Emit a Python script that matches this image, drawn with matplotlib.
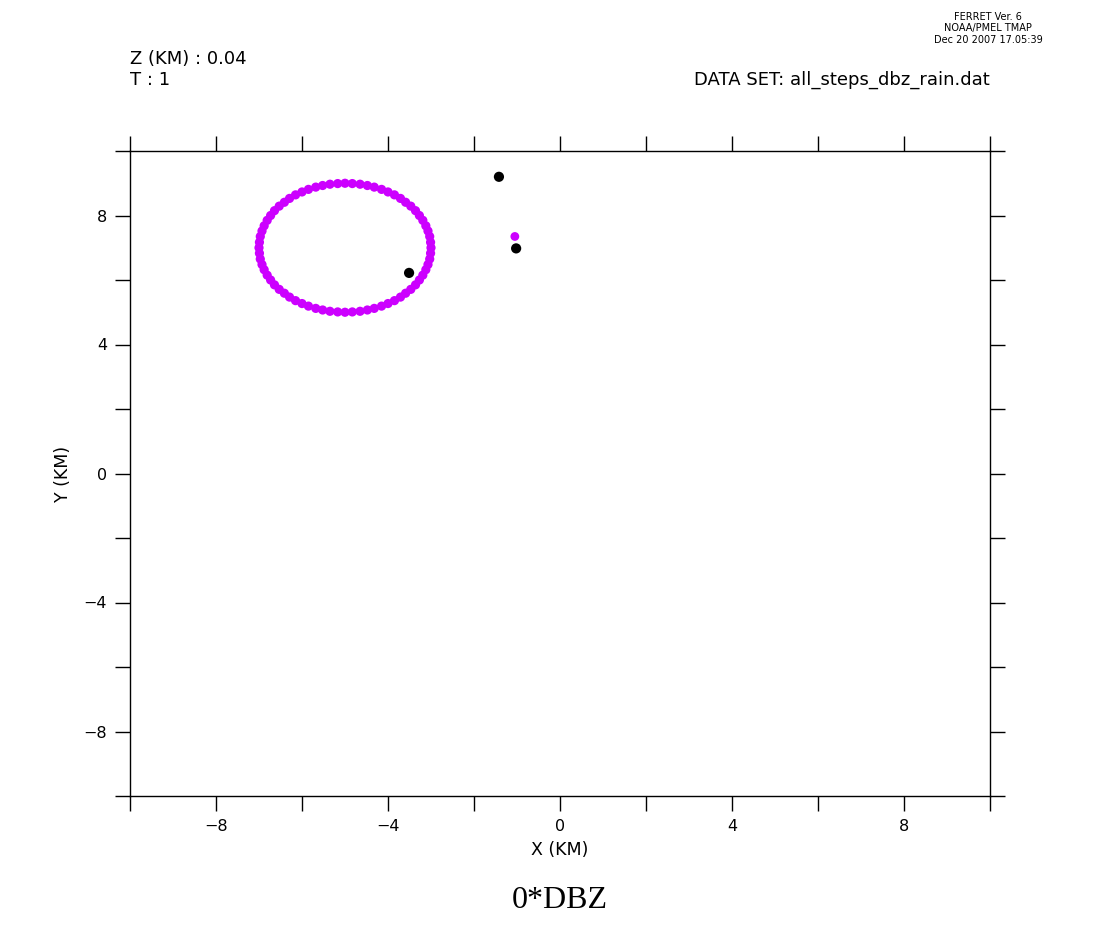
import matplotlib.pyplot as plt

# ring of rain points (magenta)
ring_x = [-3.00, -3.01, -3.03, -3.07, -3.12, -3.19, -3.27, -3.36, -3.47, -3.59, -3.71, -3.85,
          -4.00, -4.15, -4.32, -4.48, -4.65, -4.83,
          -5.00, -5.17, -5.35, -5.52, -5.68, -5.85, -6.00, -6.15, -6.29, -6.41, -6.53, -6.64,
          -6.73, -6.81, -6.88, -6.93, -6.97, -6.99,
          -7.00, -6.99, -6.97, -6.93, -6.88, -6.81, -6.73, -6.64, -6.53, -6.41, -6.29, -6.15,
          -6.00, -5.85, -5.68, -5.52, -5.35, -5.17,
          -5.00, -4.83, -4.65, -4.48, -4.32, -4.15, -4.00, -3.85, -3.71, -3.59, -3.47, -3.36,
          -3.27, -3.19, -3.12, -3.07, -3.03, -3.01]
ring_y = [7.00, 7.17, 7.35, 7.52, 7.68, 7.85, 8.00, 8.15, 8.29, 8.41, 8.53, 8.64,
          8.73, 8.81, 8.88, 8.93, 8.97, 8.99,
          9.00, 8.99, 8.97, 8.93, 8.88, 8.81, 8.73, 8.64, 8.53, 8.41, 8.29, 8.15,
          8.00, 7.85, 7.68, 7.52, 7.35, 7.17,
          7.00, 6.83, 6.65, 6.48, 6.32, 6.15, 6.00, 5.85, 5.71, 5.59, 5.47, 5.36,
          5.27, 5.19, 5.12, 5.07, 5.03, 5.01,
          5.00, 5.01, 5.03, 5.07, 5.12, 5.19, 5.27, 5.36, 5.47, 5.59, 5.71, 5.85,
          6.00, 6.15, 6.32, 6.48, 6.65, 6.83]

# single magenta point
extra_x = [-1.05]
extra_y = [7.35]

# black points
black_x = [-1.42, -3.51, -1.02]
black_y = [9.20, 6.22, 6.98]

ticks = [-10, -8, -6, -4, -2, 0, 2, 4, 6, 8, 10]
tick_labels = ['', '\u22128', '', '\u22124', '', '0', '', '4', '', '8', '']

magenta = '#cc00ff'


def plot():
    fig = plt.figure(figsize=(11, 9.48), dpi=100)
    ax = fig.add_axes([130 / 1100, 1 - 796 / 948, 860 / 1100, 645 / 948])

    ax.scatter(black_x, black_y, s=54, color='black', edgecolors='none', zorder=3)
    ax.scatter(ring_x, ring_y, s=44, color=magenta, edgecolors='none', zorder=3)
    ax.scatter(extra_x, extra_y, s=40, color=magenta, edgecolors='none', zorder=3)

    ax.set_xlim(-10, 10)
    ax.set_ylim(-10, 10)
    ax.set_xticks(ticks)
    ax.set_xticklabels(tick_labels)
    ax.set_yticks(ticks)
    ax.set_yticklabels(tick_labels)
    ax.tick_params(direction='out', length=10.5, width=1, labelsize=11.5,
                   top=True, right=True, pad=6)
    for sp in ax.spines.values():
        sp.set_linewidth(1)

    ax.set_xlabel('X (KM)', fontsize=12.5, labelpad=5)
    ax.set_ylabel('Y (KM)', fontsize=12.5, labelpad=8)

    fig.text(130 / 1100, 1 - 59 / 948, 'Z (KM) : 0.04', fontsize=13, va='center', ha='left')
    fig.text(130 / 1100, 1 - 80 / 948, 'T : 1', fontsize=13, va='center', ha='left')
    fig.text(990 / 1100, 1 - 80 / 948, 'DATA SET: all_steps_dbz_rain.dat', fontsize=13,
             va='center', ha='right')

    fig.text(988 / 1100, 1 - 17 / 948, 'FERRET Ver. 6', fontsize=7, va='center', ha='center')
    fig.text(988 / 1100, 1 - 28 / 948, 'NOAA/PMEL TMAP', fontsize=7, va='center', ha='center')
    fig.text(988 / 1100, 1 - 40 / 948, 'Dec 20 2007 17.05:39', fontsize=7, va='center', ha='center')

    fig.text(560 / 1100, 1 - 900 / 948, '0*DBZ', fontsize=23, family='Liberation Serif',
             va='center', ha='center')

    fig.savefig('out.png', dpi=100)


if __name__ == '__main__':
    plot()
